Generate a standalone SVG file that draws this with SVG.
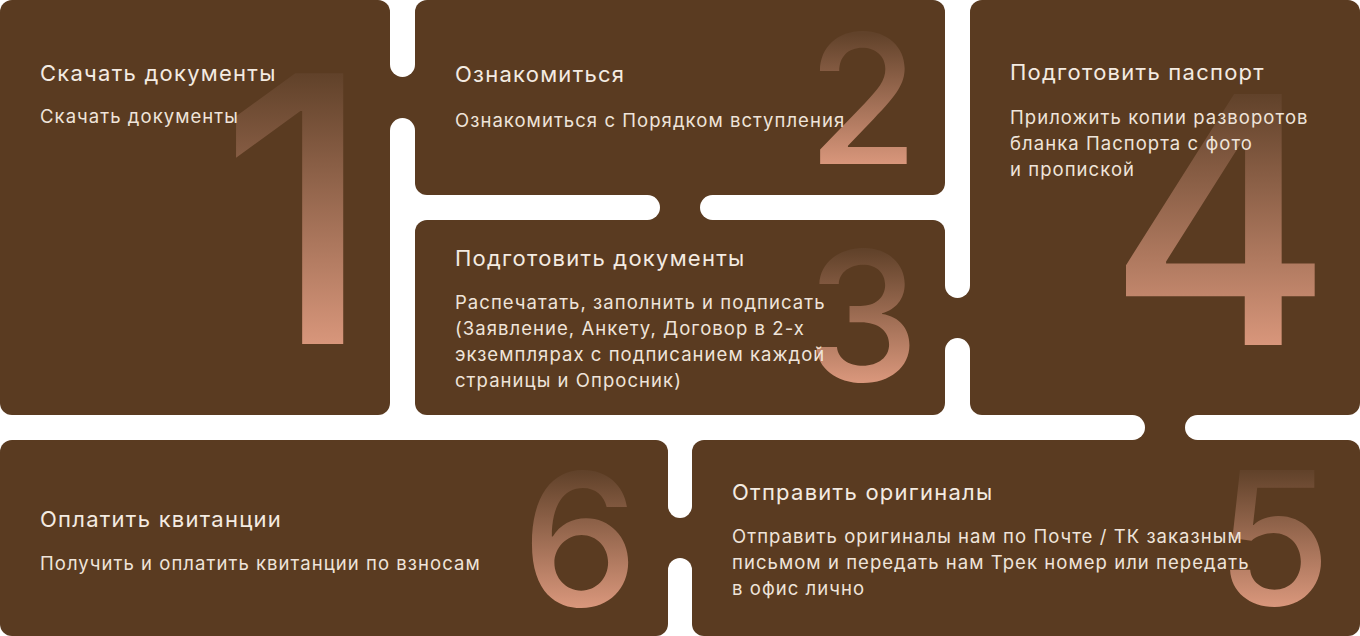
<svg xmlns="http://www.w3.org/2000/svg" width="1360" height="636" viewBox="0 0 1360 636">
<defs>
<linearGradient id="g" x1="0" y1="0" x2="0" y2="1">
<stop offset="0.2" stop-color="#61422a"/>
<stop offset="0.8" stop-color="#d8967b"/>
</linearGradient>
<style>
.card{fill:#5a3b21}
.br{fill:#5a3b21}
.hole{fill:#ffffff}
.t{font-family:Inter,"Open Sans",sans-serif;font-size:22px;fill:#f4ebe2;letter-spacing:1.25px}
.b{font-family:Inter,"Open Sans",sans-serif;font-size:18.5px;fill:#efe4da;letter-spacing:1.05px}
.n{font-family:Inter,"Open Sans",sans-serif;font-weight:500;fill:url(#g);text-anchor:middle}
</style>
</defs>
<rect width="1360" height="636" fill="#ffffff"/>
<g id="connectors">
<rect class="br" x="389" y="64.5" width="27" height="66"/>
<circle class="hole" cx="402.5" cy="64.5" r="12.5"/>
<circle class="hole" cx="402.5" cy="130.5" r="12.5"/>
<rect class="br" x="647.5" y="194" width="65" height="27"/>
<circle class="hole" cx="647.5" cy="207.5" r="12.5"/>
<circle class="hole" cx="712.5" cy="207.5" r="12.5"/>
<rect class="br" x="944" y="285.5" width="27" height="65"/>
<circle class="hole" cx="957.5" cy="285.5" r="12.5"/>
<circle class="hole" cx="957.5" cy="350.5" r="12.5"/>
<rect class="br" x="1132.5" y="414" width="65" height="27"/>
<circle class="hole" cx="1132.5" cy="427.5" r="12.5"/>
<circle class="hole" cx="1197.5" cy="427.5" r="12.5"/>
<rect class="br" x="667" y="506" width="26" height="64"/>
<circle class="hole" cx="680" cy="506" r="12"/>
<circle class="hole" cx="680" cy="570" r="12"/>
</g>
<g id="node1">
<rect class="card" x="0" y="0" width="390" height="415" rx="12"/>
<text class="n" x="296" y="344" font-size="372" font-weight="600">1</text>
<text class="t" x="40" y="81">Скачать документы</text>
<text class="b" x="40" y="123">Скачать документы</text>
</g>
<g id="node2">
<rect class="card" x="415" y="0" width="530" height="195" rx="12"/>
<text class="n" x="863" y="164" font-size="180">2</text>
<text class="t" x="455" y="82">Ознакомиться</text>
<text class="b" x="455" y="127">Ознакомиться с Порядком вступления</text>
</g>
<g id="node3">
<rect class="card" x="415" y="220" width="530" height="195" rx="12"/>
<text class="n" x="863" y="381" font-size="180">3</text>
<text class="t" x="455" y="266">Подготовить документы</text>
<text class="b" x="455" y="309">Распечатать, заполнить и подписать</text>
<text class="b" x="455" y="335">(Заявление, Анкету, Договор в 2-х</text>
<text class="b" x="455" y="361">экземплярах с подписанием каждой</text>
<text class="b" x="455" y="387">страницы и Опросник)</text>
</g>
<g id="node4">
<rect class="card" x="970" y="0" width="390" height="415" rx="12"/>
<text class="n" x="1220" y="345" font-size="345">4</text>
<text class="t" x="1010" y="80">Подготовить паспорт</text>
<text class="b" x="1010" y="124">Приложить копии разворотов</text>
<text class="b" x="1010" y="150">бланка Паспорта с фото</text>
<text class="b" x="1010" y="176">и пропиской</text>
</g>
<g id="node6">
<rect class="card" x="0" y="440" width="668" height="196" rx="12"/>
<text class="n" x="580" y="606" font-size="185">6</text>
<text class="t" x="40" y="527">Оплатить квитанции</text>
<text class="b" x="40" y="570">Получить и оплатить квитанции по взносам</text>
</g>
<g id="node5">
<rect class="card" x="692" y="440" width="668" height="196" rx="12"/>
<text class="n" x="1274" y="605" font-size="185">5</text>
<text class="t" x="732" y="500">Отправить оригиналы</text>
<text class="b" x="732" y="543">Отправить оригиналы нам по Почте / ТК заказным</text>
<text class="b" x="732" y="569">письмом и передать нам Трек номер или передать</text>
<text class="b" x="732" y="595">в офис лично</text>
</g>
</svg>
